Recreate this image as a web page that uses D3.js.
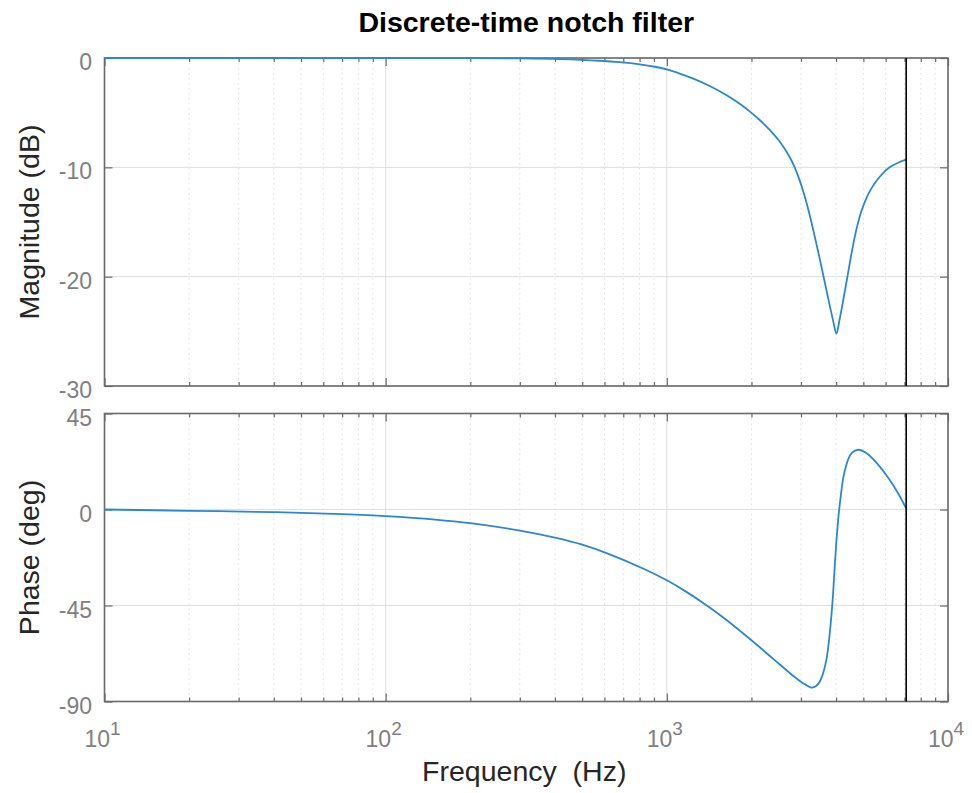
<!DOCTYPE html>
<html>
<head>
<meta charset="utf-8">
<script src="https://cdn.jsdelivr.net/npm/d3@7"></script>
<style>
  html, body { margin: 0; padding: 0; background: #ffffff; }
  svg { display: block; font-family: "Liberation Sans", Arial, Helvetica, sans-serif; }
</style>
</head>
<body>
<svg id="chart" width="972" height="793"></svg>
<script>
// ---------------- data ----------------
const chartTitle = "Discrete-time notch filter";
const magLabel = "Magnitude (dB)";
const phaseLabel = "Phase (deg)";
const freqLabel = "Frequency  (Hz)";

const magFreqHz = [10, 100, 200, 300, 416, 578, 680, 801, 906, 1000, 1111, 1236, 1421, 1633, 1816,
  1971, 2139, 2322, 2520, 2735, 2849, 2968, 3093, 3221, 3356, 3497, 3642, 3794, 3905, 4009,
  4119, 4230, 4409, 4561, 4721, 4911, 5124, 5328, 5562, 5854, 6199, 6619, 7100];
const magDb = [0, -0.005, -0.018, -0.04, -0.1, -0.25, -0.38, -0.58, -0.8, -1.05, -1.42, -1.86, -2.56, -3.41, -4.19,
  -4.88, -5.67, -6.57, -7.64, -9.06, -10.0, -11.19, -12.65, -14.36, -16.3, -18.35, -20.47, -22.6, -24.04, -25.2,
  -23.87, -22.3, -19.7, -17.57, -15.7, -14.06, -12.83, -11.97, -11.25, -10.57, -10.0, -9.6, -9.3];

const phaseFreqHz = [10, 20, 40, 70, 100, 150, 200, 300, 400, 500, 620, 830, 1000, 1170, 1420, 1630,
  2000, 2390, 2810, 3050, 3273, 3404, 3500, 3592, 3693, 3770, 3847, 3900, 3953, 4009, 4060, 4110,
  4170, 4230, 4320, 4409, 4550, 4786, 5124, 5400, 5710, 6030, 6370, 6700, 7100];
const phaseDeg = [0, -0.6, -1.25, -2.2, -3.1, -4.7, -6.4, -9.9, -13.2, -16.5, -20.8, -27.9, -33.2, -38.5, -45.9, -51.8,
  -61.3, -70.0, -77.9, -81.4, -83.5, -82.6, -80.6, -77.0, -70.5, -62.0, -50.0, -40.0, -27.0, -15.0, -6.0, 1.0,
  8.0, 14.0, 19.5, 23.3, 26.5, 28.0, 26.5, 23.8, 20.2, 16.2, 11.6, 6.8, 0.5];

const freqDomainHz = [10, 10000];
const freqTickExponents = [1, 2, 3, 4];
const magDomainDb = [-30, 0];
const magTicks = [0, -10, -20, -30];
const phaseDomainDeg = [-90, 45];
const phaseTicks = [45, 0, -45, -90];
const nyquistHz = 7100;

// ---------------- layout ----------------
const svg = d3.select("#chart");
const plotLeft = 104.5, plotRight = 948;
const magTop = 58, magBottom = 386;
const phTop = 413.5, phBottom = 701.5;

const x = d3.scaleLog().domain(freqDomainHz).range([plotLeft, plotRight]);
const yMag = d3.scaleLinear().domain(magDomainDb).range([magBottom, magTop]);
const yPh = d3.scaleLinear().domain(phaseDomainDeg).range([phBottom, phTop]);

const borderColor = "#6a6a6a";
const gridColor = "#dedede";
const tickLabelColor = "#808080";
const labelColor = "#262626";
const curveColor = "#2b88d0";

// minor tick frequencies: 2..9 x each decade
const minorFreqs = [];
for (let e = freqTickExponents[0]; e < freqTickExponents[freqTickExponents.length - 1]; e++) {
  for (let m = 2; m <= 9; m++) minorFreqs.push(m * Math.pow(10, e));
}
const majorFreqs = freqTickExponents.map(e => Math.pow(10, e));

function drawPanel(yScale, top, bottom, yTicks, freqs, vals, id) {
  const g = svg.append("g");
  svg.append("clipPath").attr("id", id).append("rect")
    .attr("x", plotLeft - 2).attr("y", top - 2).attr("width", plotRight - plotLeft + 4).attr("height", bottom - top + 4);

  // minor x grid (dotted)
  g.selectAll(".minorGrid").data(minorFreqs).join("line")
    .attr("x1", d => x(d)).attr("x2", d => x(d))
    .attr("y1", top).attr("y2", bottom)
    .attr("stroke", gridColor).attr("stroke-width", 1)
    .attr("stroke-dasharray", "1.5,3.5");
  // major x grid
  g.selectAll(".majorGrid").data(majorFreqs).join("line")
    .attr("x1", d => x(d)).attr("x2", d => x(d))
    .attr("y1", top).attr("y2", bottom)
    .attr("stroke", gridColor).attr("stroke-width", 1);
  // y grid
  g.selectAll(".yGrid").data(yTicks).join("line")
    .attr("x1", plotLeft).attr("x2", plotRight)
    .attr("y1", d => yScale(d)).attr("y2", d => yScale(d))
    .attr("stroke", gridColor).attr("stroke-width", 1);

  // axes via d3 axis generators (inward ticks)
  const axB = d3.axisBottom(x).tickValues(majorFreqs).tickSize(-8).tickFormat("");
  const axBm = d3.axisBottom(x).tickValues(minorFreqs).tickSize(-4).tickFormat("");
  const axT = d3.axisTop(x).tickValues(majorFreqs).tickSize(-8).tickFormat("");
  const axTm = d3.axisTop(x).tickValues(minorFreqs).tickSize(-4).tickFormat("");
  const axL = d3.axisLeft(yScale).tickValues(yTicks).tickSize(-8).tickFormat("");
  const axR = d3.axisRight(yScale).tickValues(yTicks).tickSize(-8).tickFormat("");

  const axes = [
    [axB, `translate(0,${bottom})`], [axBm, `translate(0,${bottom})`],
    [axT, `translate(0,${top})`], [axTm, `translate(0,${top})`],
    [axL, `translate(${plotLeft},0)`], [axR, `translate(${plotRight},0)`]
  ];
  axes.forEach(([ax, tr]) => {
    const a = g.append("g").attr("transform", tr).call(ax);
    a.select(".domain").remove();
    a.selectAll("line").attr("stroke", borderColor).attr("stroke-width", 1.2);
  });

  // border
  g.append("rect")
    .attr("x", plotLeft).attr("y", top)
    .attr("width", plotRight - plotLeft).attr("height", bottom - top)
    .attr("fill", "none").attr("stroke", borderColor).attr("stroke-width", 1.6);

  // curve (drawn above the border, like the reference)
  const line = d3.line()
    .x((d, i) => x(freqs[i]))
    .y(d => yScale(d))
    .curve(d3.curveCatmullRom.alpha(0.5));
  g.append("path").datum(vals)
    .attr("clip-path", `url(#${id})`)
    .attr("fill", "none")
    .attr("stroke", curveColor)
    .attr("stroke-width", 1.8)
    .attr("stroke-linejoin", "round")
    .attr("d", line);

  // nyquist line
  g.append("line")
    .attr("x1", x(nyquistHz)).attr("x2", x(nyquistHz))
    .attr("y1", top).attr("y2", bottom)
    .attr("stroke", "#000").attr("stroke-width", 1.6);

  // y tick labels
  g.selectAll(".ytl").data(yTicks).join("text")
    .attr("x", 92).attr("y", d => yScale(d) + 12)
    .attr("text-anchor", "end")
    .attr("font-size", 23)
    .attr("fill", tickLabelColor)
    .text(d => String(d));
}

drawPanel(yMag, magTop, magBottom, magTicks, magFreqHz, magDb, "clipMag");
drawPanel(yPh, phTop, phBottom, phaseTicks, phaseFreqHz, phaseDeg, "clipPh");

// x tick labels (10^n) under bottom panel
const xtl = svg.append("g");
freqTickExponents.forEach(e => {
  const t = xtl.append("text")
    .attr("x", x(Math.pow(10, e)) - 2)
    .attr("y", 746.5)
    .attr("text-anchor", "middle")
    .attr("fill", tickLabelColor)
    .attr("font-size", 23);
  t.append("tspan").text("10");
  t.append("tspan").attr("dy", -12).attr("font-size", 19).text(String(e));
});

// title
svg.append("text")
  .attr("x", (plotLeft + plotRight) / 2)
  .attr("y", 31.5)
  .attr("text-anchor", "middle")
  .attr("font-size", 28.5)
  .attr("font-weight", "bold")
  .attr("fill", "#000")
  .text(chartTitle);

// axis labels
svg.append("text")
  .attr("transform", `translate(38.5,${(magTop + magBottom) / 2}) rotate(-90)`)
  .attr("text-anchor", "middle")
  .attr("font-size", 28.5)
  .attr("fill", labelColor)
  .text(magLabel);
svg.append("text")
  .attr("transform", `translate(38.5,${(phTop + phBottom) / 2}) rotate(-90)`)
  .attr("text-anchor", "middle")
  .attr("font-size", 28.5)
  .attr("fill", labelColor)
  .text(phaseLabel);
svg.append("text")
  .attr("x", (plotLeft + plotRight) / 2 - 2)
  .attr("y", 780.5)
  .attr("text-anchor", "middle")
  .attr("font-size", 28.5)
  .attr("fill", labelColor)
  .style("white-space", "pre")
  .text(freqLabel);
</script>
</body>
</html>
